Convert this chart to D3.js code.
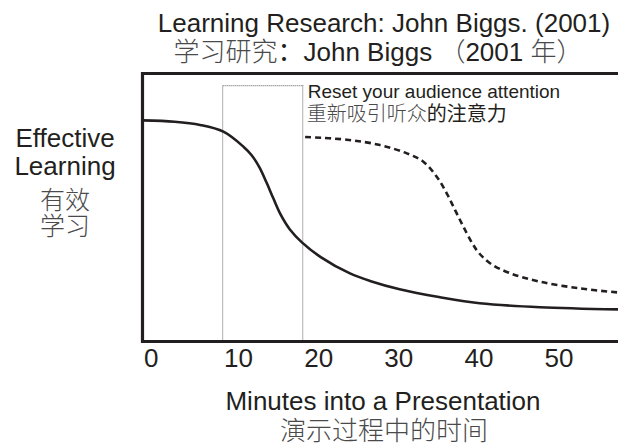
<!DOCTYPE html>
<html><head><meta charset="utf-8">
<script src="https://cdn.jsdelivr.net/npm/d3@7/dist/d3.min.js"></script>
<style>
body{margin:0;background:#fff;}
svg{display:block;}
text{font-family:"Liberation Sans",Arial,"Noto Sans CJK SC",sans-serif;}
.cjk{font-family:"Noto Sans CJK SC",sans-serif;font-weight:300;}
</style></head>
<body>
<svg id="chart" width="618" height="446"></svg>
<script>
// ---- data ----
const xTicks = [0, 10, 20, 30, 40, 50];
const solidMinutes = [0, 4, 7.2, 10.1, 12.6, 13.6, 14.6, 15.5, 16.3, 17.2, 18.4, 19.9, 22.2, 25.9, 28.5, 32.1, 37, 42.1, 49.6, 59.36];
const solidValues  = [82.5, 82.0, 80.8, 78.3, 72.7, 69.6, 65.0, 59.2, 53.6, 47.6, 41.8, 37.0, 31.6, 25.4, 22.5, 19.5, 16.6, 14.3, 12.8, 12.0];
const dashMinutes = [20.3, 25.5, 29.65, 33.0, 35.06, 36.73, 37.98, 39.01, 40.05, 41.1, 41.9, 43.38, 45.88, 49.63, 54.62, 59.36];
const dashValues  = [76.3, 75.3, 73.3, 70.2, 67.1, 61.5, 55.3, 49.1, 42.9, 37.0, 33.4, 29.2, 25.5, 22.3, 19.8, 18.3];
const resetWindow = [10, 20];
const resetTop = 95.5;
const titleLines = ["Learning Research: John Biggs. (2001)"];
const xLabel = ["Minutes into a Presentation", "演示过程中的时间"];
const yLabel = ["Effective", "Learning", "有效", "学习"];

const svg = d3.select("#chart");
const ink = "#231f20", grey = "#4a4a4a";
const x = d3.scaleLinear().domain([0, 59.36]).range([142.5, 618]);
const y = d3.scaleLinear().domain([0, 100]).range([341.5, 73.5]);

// title
svg.append("text").attr("x", 384).attr("y", 32).attr("text-anchor", "middle")
  .attr("font-size", 26).attr("fill", ink).text(titleLines[0]);
const t2 = svg.append("text").attr("x", 378).attr("y", 61).attr("text-anchor", "middle")
  .attr("font-size", 26).attr("fill", ink);
t2.append("tspan").attr("class", "cjk").attr("fill", grey).text("学习研究");
t2.append("tspan").attr("class", "cjk").attr("fill", ink).style("font-weight", 400).text("：");
t2.append("tspan").text("John Biggs ");
t2.append("tspan").attr("class", "cjk").attr("fill", grey).text("（");
t2.append("tspan").text("2001 ");
t2.append("tspan").attr("class", "cjk").attr("fill", grey).text("年）");

// reset window (dotted box)
svg.append("path")
  .attr("d", `M${x(resetWindow[0])},${y(0)}V${y(resetTop)}H${x(resetWindow[1])}V${y(0)}`)
  .attr("fill", "none").attr("stroke", "#7a7a7a").attr("stroke-width", 1.2)
  .attr("stroke-dasharray", "1,1");

// annotation
svg.append("text").attr("x", x(resetWindow[1]) + 5).attr("y", 98)
  .attr("font-size", 19).attr("fill", ink).text("Reset your audience attention");
const a2 = svg.append("text").attr("x", x(resetWindow[1]) + 4).attr("y", 121)
  .attr("font-size", 20);
a2.append("tspan").attr("class", "cjk").attr("fill", grey).text("重新吸引听众");
a2.append("tspan").attr("class", "cjk").attr("fill", ink).style("font-weight", 400).text("的注意力");

// curves
const line = d3.line().x(d => x(d[0])).y(d => y(d[1])).curve(d3.curveCatmullRom.alpha(0.5));
svg.append("path").datum(d3.zip(solidMinutes, solidValues))
  .attr("d", line).attr("fill", "none").attr("stroke", ink).attr("stroke-width", 2.6);
svg.append("path").datum(d3.zip(dashMinutes, dashValues))
  .attr("d", line).attr("fill", "none").attr("stroke", ink).attr("stroke-width", 2.6)
  .attr("stroke-dasharray", "6,4");

// frame
svg.append("path")
  .attr("d", `M618,${y(100)}H${x(0)}V${y(0)}H618`)
  .attr("fill", "none").attr("stroke", ink).attr("stroke-width", 3.2);

// x axis labels
const xAxis = d3.axisBottom(x).tickValues(xTicks).tickSize(0).tickPadding(0);
const gx = svg.append("g").attr("transform", `translate(0,${y(0)})`).call(xAxis);
gx.select(".domain").remove();
gx.selectAll("text").attr("font-size", 26).attr("fill", ink)
  .attr("font-family", "Liberation Sans, Arial, sans-serif")
  .attr("text-anchor", "start").attr("dy", null).attr("y", 25).attr("x", 1);

// x label
svg.append("text").attr("x", 383).attr("y", 410).attr("text-anchor", "middle")
  .attr("font-size", 26).attr("fill", ink).text(xLabel[0]);
svg.append("text").attr("class", "cjk").attr("x", 384).attr("y", 440).attr("text-anchor", "middle")
  .attr("font-size", 26).attr("fill", grey).text(xLabel[1]);

// y label
const yl = [147, 175, 209, 235];
yLabel.forEach((s, i) => {
  svg.append("text").attr("x", 65).attr("y", yl[i]).attr("text-anchor", "middle")
    .attr("class", i > 1 ? "cjk" : null)
    .attr("font-size", i > 1 ? 25 : 26).attr("fill", i > 1 ? grey : ink).text(s);
});
</script>
</body></html>
